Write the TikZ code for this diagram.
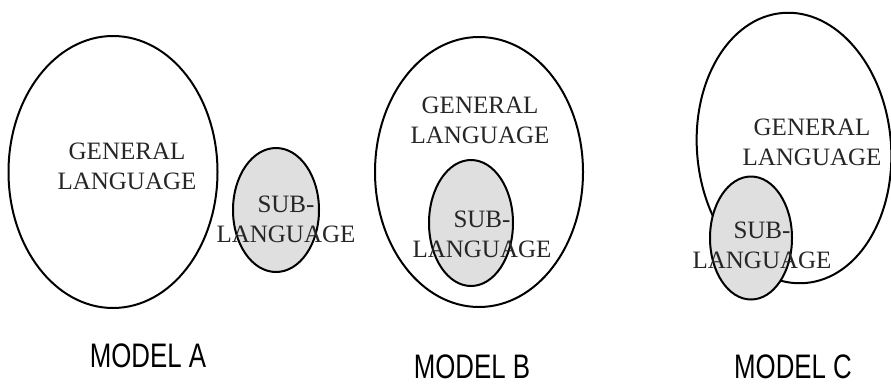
\documentclass[tikz,border=0pt]{standalone}
\usepackage{fontspec}
\setmainfont{Liberation Serif}
\newfontfamily\narrowsans[FakeStretch=0.76]{Liberation Sans}
\usetikzlibrary{shapes.geometric}
\begin{document}
\begin{tikzpicture}[x=1pt,y=-1pt,
  outline/.style={draw=black, line width=2pt, ellipse, inner sep=0pt},
  bigset/.style={outline, fill=white},
  subset/.style={outline, fill=gray!25},
  settext/.style={font=\fontsize{25}{30}\selectfont, align=center, text=black!85, inner sep=0pt},
  modeltext/.style={font=\narrowsans\fontsize{34}{40}\selectfont, inner sep=0pt, anchor=base, text depth=0pt}]
\useasboundingbox (0,0) rectangle (891,383);
% Model A
\node[bigset, minimum width=209pt, minimum height=272pt] (Abig) at (113,172) {};
\node[subset, minimum width=86pt, minimum height=124pt] (Asub) at (276,210) {};
\node[settext] (Agen) at (127,166) {GENERAL\\LANGUAGE};
\node[settext] (Asubt) at (286,219) {SUB-\\LANGUAGE};
\node[modeltext] (Alab) at (148,367) {MODEL A};
% Model B
\node[bigset, minimum width=208pt, minimum height=270pt] (Bbig) at (479,172) {};
\node[subset, minimum width=84pt, minimum height=126pt] (Bsub) at (471,223) {};
\node[settext] (Bgen) at (480,120) {GENERAL\\LANGUAGE};
\node[settext] (Bsubt) at (482,234) {SUB-\\LANGUAGE};
\node[modeltext] (Blab) at (472,378) {MODEL B};
% Model C
\node[bigset, rotate=5, minimum width=194pt, minimum height=271pt] (Cbig) at (794,148) {};
\node[subset, minimum width=82pt, minimum height=123pt] (Csub) at (751,238) {};
\node[settext] (Cgen) at (812,142) {GENERAL\\LANGUAGE};
\node[settext] (Csubt) at (762,245) {SUB-\\LANGUAGE};
\node[modeltext] (Clab) at (793,378) {MODEL C};
\end{tikzpicture}
\end{document}
